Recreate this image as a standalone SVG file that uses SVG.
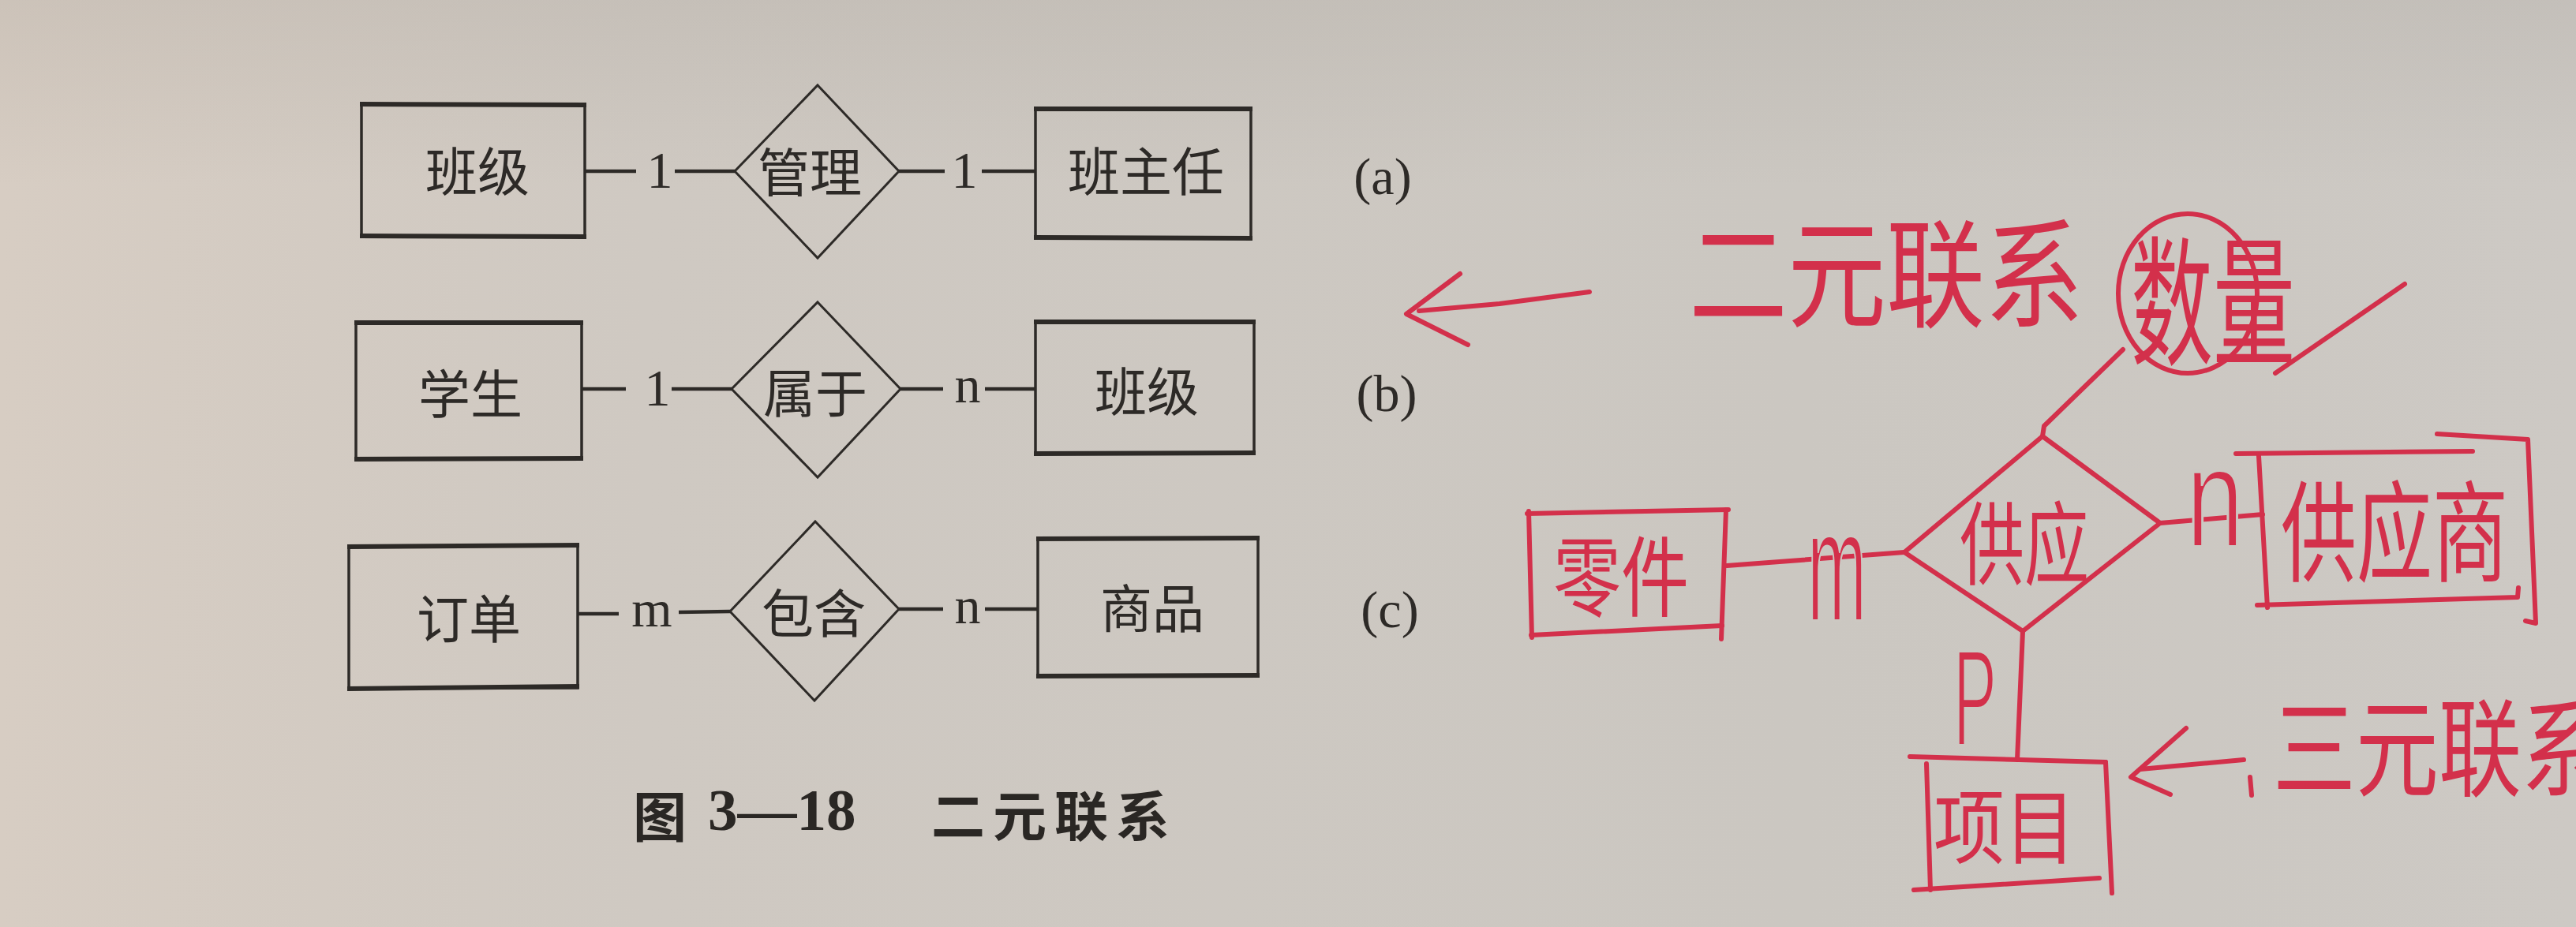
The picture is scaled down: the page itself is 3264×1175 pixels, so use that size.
<svg xmlns="http://www.w3.org/2000/svg" width="3264" height="1175" viewBox="0 0 3264 1175">
<defs>
<linearGradient id="bg" x1="0" y1="0" x2="1" y2="0">
<stop offset="0" stop-color="#d7cdc3"/>
<stop offset="0.25" stop-color="#cfc9c2"/>
<stop offset="0.7" stop-color="#cbc7c1"/>
<stop offset="1" stop-color="#cdc9c4"/>
</linearGradient>
<linearGradient id="shade" x1="0" y1="0" x2="0" y2="1">
<stop offset="0" stop-color="#9a948c" stop-opacity="0.18"/>
<stop offset="0.2" stop-color="#9a948c" stop-opacity="0"/>
<stop offset="1" stop-color="#9a948c" stop-opacity="0"/>
</linearGradient>
<style>
.box{fill:none;stroke:#2d2a27;stroke-width:3.5}
.edge{stroke:#2d2a27;stroke-width:6;fill:none}
.dia{fill:none;stroke:#2d2a27;stroke-width:3}
.ln{stroke:#2d2a27;stroke-width:4.5;fill:none}
.t{font-family:"Noto Sans CJK SC","Noto Sans CJK JP",sans-serif;font-size:66px;font-weight:400;fill:#2d2a27;text-anchor:middle;dominant-baseline:central}
.c{font-family:"Liberation Serif",serif;font-size:66px;fill:#2d2a27;text-anchor:middle;dominant-baseline:central}
.cap{font-family:"Noto Sans CJK SC",sans-serif;font-size:68px;font-weight:700;fill:#2a2724;dominant-baseline:central}
.capn{font-family:"Liberation Serif",serif;font-size:75px;font-weight:700;fill:#2a2724;dominant-baseline:central}
.r{fill:none;stroke:#d3304b;stroke-width:6;stroke-linecap:round;stroke-linejoin:round}
.rt{font-family:"Noto Sans CJK SC",sans-serif;font-weight:400;fill:#d3304b;dominant-baseline:central}
.rl{font-family:"Liberation Sans",sans-serif;fill:#d3304b;stroke:#ccc8c2;stroke-width:4}
</style>
</defs>
<rect x="0" y="0" width="3264" height="1175" fill="url(#bg)"/>
<rect x="0" y="0" width="3264" height="1175" fill="url(#shade)"/>

<g id="connectors">
<line class="ln" x1="741" y1="217" x2="806" y2="217"/>
<line class="ln" x1="855" y1="217" x2="931" y2="217"/>
<line class="ln" x1="1139" y1="217" x2="1197" y2="217"/>
<line class="ln" x1="1244" y1="217" x2="1312" y2="217"/>
<line class="ln" x1="737" y1="493" x2="793" y2="493"/>
<line class="ln" x1="851" y1="493" x2="927" y2="493"/>
<line class="ln" x1="1141" y1="493" x2="1195" y2="493"/>
<line class="ln" x1="1248" y1="493" x2="1312" y2="493"/>
<line class="ln" x1="732" y1="778" x2="784" y2="778"/>
<line class="ln" x1="860" y1="776" x2="925" y2="775"/>
<line class="ln" x1="1139" y1="772" x2="1195" y2="772"/>
<line class="ln" x1="1248" y1="772" x2="1315" y2="772"/>
<path class="r" d="M2188,717 L2413,700"/>
<path class="r" d="M2588,553 L2590,540 L2690,443"/>
<path class="r" d="M2737,663 L2867,652"/>
<path class="r" d="M2563,800 L2556,963"/>
</g>

<g id="card-labels">
<text class="c" x="836" y="215">1</text>
<text class="c" x="1222" y="215">1</text>
<text class="c" x="833" y="491">1</text>
<text class="c" x="1226" y="487">n</text>
<text class="c" x="826" y="771">m</text>
<text class="c" x="1226" y="767">n</text>
<text class="rl" x="2290" y="787" font-size="200" textLength="75" lengthAdjust="spacingAndGlyphs">m</text>
<text class="rl" x="2770" y="693" font-size="180" textLength="73" lengthAdjust="spacingAndGlyphs">n</text>
<text class="rl" x="2475" y="945" font-size="175" textLength="55" lengthAdjust="spacingAndGlyphs">P</text>
</g>

<g id="a-banji">
<rect class="box" x="458" y="132" width="283" height="167"/>
<line class="edge" x1="456" y1="132" x2="743" y2="133"/>
<line class="edge" x1="456" y1="299" x2="743" y2="300"/>
<text class="t" x="605" y="213">班级</text>
</g>
<g id="a-guanli">
<polygon class="dia" points="1036,108 1139,217 1036,327 931,217"/>
<text class="t" x="1026" y="214">管理</text>
</g>
<g id="a-banzhuren">
<rect class="box" x="1312" y="138" width="273" height="164"/>
<line class="edge" x1="1310" y1="138" x2="1587" y2="138"/>
<line class="edge" x1="1310" y1="301" x2="1587" y2="302"/>
<text class="t" x="1452" y="213">班主任</text>
</g>
<text class="c" x="1752" y="223" font-size="70">(a)</text>

<g id="b-xuesheng">
<rect class="box" x="451" y="409" width="286" height="173"/>
<line class="edge" x1="449" y1="409" x2="739" y2="409"/>
<line class="edge" x1="449" y1="582" x2="739" y2="581"/>
<text class="t" x="596" y="495">学生</text>
</g>
<g id="b-shuyu">
<polygon class="dia" points="1036,383 1141,493 1036,605 927,493"/>
<text class="t" x="1033" y="494">属于</text>
</g>
<g id="b-banji">
<rect class="box" x="1312" y="408" width="277" height="167"/>
<line class="edge" x1="1310" y1="408" x2="1591" y2="408"/>
<line class="edge" x1="1310" y1="575" x2="1591" y2="574"/>
<text class="t" x="1453" y="492">班级</text>
</g>
<text class="c" x="1757" y="498" font-size="70">(b)</text>

<g id="c-dingdan">
<rect class="box" x="442" y="692" width="290" height="180"/>
<line class="edge" x1="440" y1="693" x2="734" y2="691"/>
<line class="edge" x1="440" y1="873" x2="734" y2="870"/>
<text class="t" x="594" y="780">订单</text>
</g>
<g id="c-baohan">
<polygon class="dia" points="1033,661 1139,772 1032,888 925,775"/>
<text class="t" x="1031" y="773">包含</text>
</g>
<g id="c-shangpin">
<rect class="box" x="1315" y="683" width="279" height="174"/>
<line class="edge" x1="1313" y1="683" x2="1596" y2="682"/>
<line class="edge" x1="1313" y1="857" x2="1596" y2="856"/>
<text class="t" x="1460" y="767">商品</text>
</g>
<text class="c" x="1761" y="772" font-size="70">(c)</text>

<g id="caption">
<text class="cap" x="802" y="1031">图</text>
<text class="capn" x="897" y="1026">3—18</text>
<text class="cap" x="1180" y="1030" letter-spacing="10">二元联系</text>
</g>

<g id="note-binary">
<path class="r" d="M1850,347 L1782,398 L1860,437"/>
<path class="r" d="M1798,394 L1900,385 L2014,370"/>
<text class="rt" font-weight="300" font-size="125" transform="translate(2140,338) scale(1,1.2)">二元联系</text>
</g>

<g id="r-lingjian">
<path class="r" d="M1935,651 L2190,646"/>
<path class="r" d="M1937,648 L1941,808"/>
<path class="r" d="M1940,805 L2182,793"/>
<path class="r" d="M2187,646 L2181,810"/>
<text class="rt" font-size="86" transform="translate(1968,724) scale(1,1.3)">零件</text>
</g>
<g id="r-gongying">
<path class="r" d="M2588,553 L2737,663 L2563,800 L2413,700 Z" stroke-width="5"/>
<text class="rt" font-size="82" transform="translate(2483,682) scale(1,1.4)">供应</text>
</g>
<g id="r-gongyingshang">
<path class="r" d="M2833,575 L3133,572"/>
<path class="r" d="M2862,578 L2873,770"/>
<path class="r" d="M2860,767 L3190,757 L3191,745"/>
<path class="r" d="M3088,550 L3203,557 L3213,790 L3200,787"/>
<text class="rt" font-size="96" transform="translate(2890,665) scale(1,1.45)">供应商</text>
</g>
<g id="r-xiangmu">
<path class="r" d="M2420,959 L2668,966"/>
<path class="r" d="M2441,968 L2446,1128"/>
<path class="r" d="M2668,966 L2676,1132"/>
<path class="r" d="M2425,1128 L2660,1113"/>
<text class="rt" font-size="90" transform="translate(2450,1042) scale(1,1.15)">项目</text>
</g>
<g id="r-shuliang">
<ellipse class="r" cx="2772" cy="372" rx="88" ry="101" stroke-width="5"/>
<text class="rt" font-weight="300" font-size="104" transform="translate(2700,372) scale(1,1.7)">数量</text>
<path class="r" d="M2883,473 Q2960,420 3047,360" stroke-width="3.5"/>
</g>
<g id="note-ternary">
<path class="r" d="M2770,923 L2700,985 L2750,1007"/>
<path class="r" d="M2712,975 L2843,963"/>
<path class="r" d="M2851,985 L2853,1008" stroke-width="5"/>
<text class="rt" font-weight="300" font-size="105" transform="translate(2880,940) scale(1,1.3)">三元联系</text>
</g>
</svg>
